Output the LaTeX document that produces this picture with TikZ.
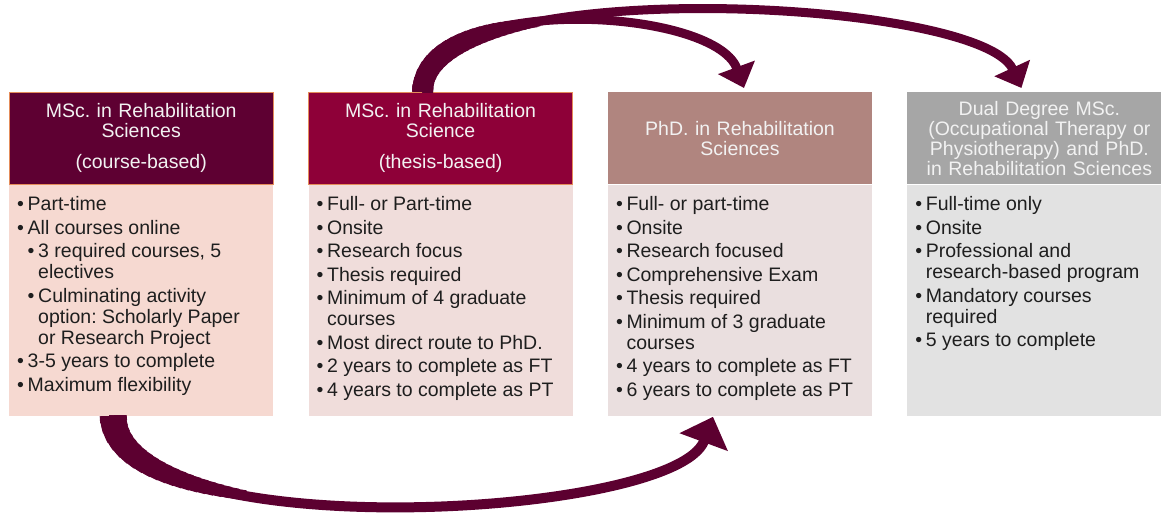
\documentclass[tikz,border=0pt]{standalone}
\usepackage{fontspec}
\setmainfont{Liberation Sans}
\usepackage{tikz}
\usetikzlibrary{positioning, arrows.meta}
\frenchspacing

\definecolor{hdrone}{RGB}{94,0,50}
\definecolor{hdrtwo}{RGB}{142,0,56}
\definecolor{hdrthree}{RGB}{176,133,127}
\definecolor{hdrfour}{RGB}{166,166,166}
\definecolor{bodyone}{RGB}{246,217,209}
\definecolor{bodytwo}{RGB}{240,221,219}
\definecolor{bodythree}{RGB}{234,223,223}
\definecolor{bodyfour}{RGB}{226,226,226}
\definecolor{arrowred}{RGB}{92,0,48}
\definecolor{edgeorange}{RGB}{228,140,90}
\definecolor{hdrtext}{RGB}{242,242,242}
\definecolor{itemtext}{RGB}{30,30,30}

\newcommand{\itm}[1]{\par\hangindent=10.5pt\hangafter=1\noindent\strut\makebox[10.5pt][l]{\textbullet}#1\strut}
\newcommand{\subitm}[1]{\par\hangindent=21pt\hangafter=1\noindent\strut\hspace*{10.5pt}\makebox[10.5pt][l]{\textbullet}#1\strut}
\newcommand{\bodytext}[1]{\parbox[c][231pt][t]{248pt}{\fontsize{19.5}{21}\selectfont\setlength{\parskip}{2.5pt}\rightskip=0pt plus 1fil\vspace{9pt}#1}}

\begin{document}
\begin{tikzpicture}[x=1pt, y=1pt,
        hdr/.style={minimum width=264pt, minimum height=92pt, text width=248pt, inner xsep=8pt, inner ysep=0pt,
                align=center, text=hdrtext, font=\fontsize{19.5}{20}\selectfont},
        body/.style={minimum width=264pt, inner xsep=8pt, inner ysep=0pt, anchor=north, text=itemtext},
        bigarrow/.style={draw=arrowred, line width=9pt, -{Triangle[width=38pt,length=22pt]}},
        taper/.style={draw=arrowred, line width=#1}]
    \useasboundingbox (0,0) rectangle (1161,512);

    % headers
    \node[hdr, fill=hdrone, draw=edgeorange, anchor=north west] (h1) at (9,420)
        {MSc. in Rehabilitation\\ Sciences\\[11pt] (course-based)};
    \node[hdr, fill=hdrtwo, draw=edgeorange, right=35pt of h1] (h2)
        {MSc. in Rehabilitation\\ Science\\[11pt] (thesis-based)};
    \node[hdr, fill=hdrthree, right=35pt of h2] (h3)
        {PhD. in Rehabilitation\\ Sciences};
    \node[hdr, fill=hdrfour, right=35pt of h3] (h4)
        {Dual Degree MSc.\\ (Occupational Therapy or\\ Physiotherapy) and PhD.\\ in Rehabilitation Sciences};

    % bodies
    \node[body, fill=bodyone] (b1) at (h1.south) {\bodytext{%
        \itm{Part-time}
        \itm{All courses online}
        \subitm{3 required courses, 5\\ electives}
        \subitm{Culminating activity\\ option: Scholarly Paper\\ or Research Project}
        \itm{3-5 years to complete}
        \itm{Maximum flexibility}}};
    \node[body, fill=bodytwo] (b2) at (h2.south) {\bodytext{%
        \itm{Full- or Part-time}
        \itm{Onsite}
        \itm{Research focus}
        \itm{Thesis required}
        \itm{Minimum of 4 graduate\\ courses}
        \itm{Most direct route to PhD.}
        \itm{2 years to complete as FT}
        \itm{4 years to complete as PT}}};
    \node[body, fill=bodythree] (b3) at (h3.south) {\bodytext{%
        \itm{Full- or part-time}
        \itm{Onsite}
        \itm{Research focused}
        \itm{Comprehensive Exam}
        \itm{Thesis required}
        \itm{Minimum of 3 graduate\\ courses}
        \itm{4 years to complete as FT}
        \itm{6 years to complete as PT}}};
    \node[body, fill=bodyfour] (b4) at (h4.south) {\bodytext{%
        \itm{Full-time only}
        \itm{Onsite}
        \itm{Professional and\\ research-based program}
        \itm{Mandatory courses\\ required}
        \itm{5 years to complete}}};

    % curved arrows, thick at the tail
    \foreach \i in {0,...,20} {
        \pgfmathsetmacro\wtop{9+0.6*(20-\i)}
        \pgfmathsetmacro\wlow{10+0.85*(20-\i)}
        \pgfmathsetmacro\ltop{6+7*\i}
        \pgfmathsetmacro\llow{6+8*\i}
        \draw[taper=\wtop pt, dash pattern=on \ltop pt off 3000pt] ([xshift=-18pt]h2.north) .. controls +(0,100) and +(-30,82) .. ([xshift=4pt,yshift=4pt]h3.north);
        \draw[taper=\wtop pt, dash pattern=on \ltop pt off 3000pt] ([xshift=-18pt]h2.north) .. controls +(0,120) and +(-42,91) .. ([xshift=-18pt,yshift=4pt]h4.north);
        \draw[taper=\wlow pt, dash pattern=on \llow pt off 3000pt] ([xshift=-28pt]b1.south) .. controls +(2,-132) and +(-38,-103) .. ([xshift=-27pt,yshift=-1pt]b3.south);
    }
    \draw[bigarrow] ([xshift=-18pt]h2.north) .. controls +(0,100) and +(-30,82) .. ([xshift=4pt,yshift=4pt]h3.north);
    \draw[bigarrow] ([xshift=-18pt]h2.north) .. controls +(0,120) and +(-42,91) .. ([xshift=-18pt,yshift=4pt]h4.north);
    \draw[bigarrow, line width=10pt, -{Triangle[width=50pt,length=27pt]}] ([xshift=-28pt]b1.south) .. controls +(2,-132) and +(-38,-103) .. ([xshift=-27pt,yshift=-1pt]b3.south);
\end{tikzpicture}
\end{document}
